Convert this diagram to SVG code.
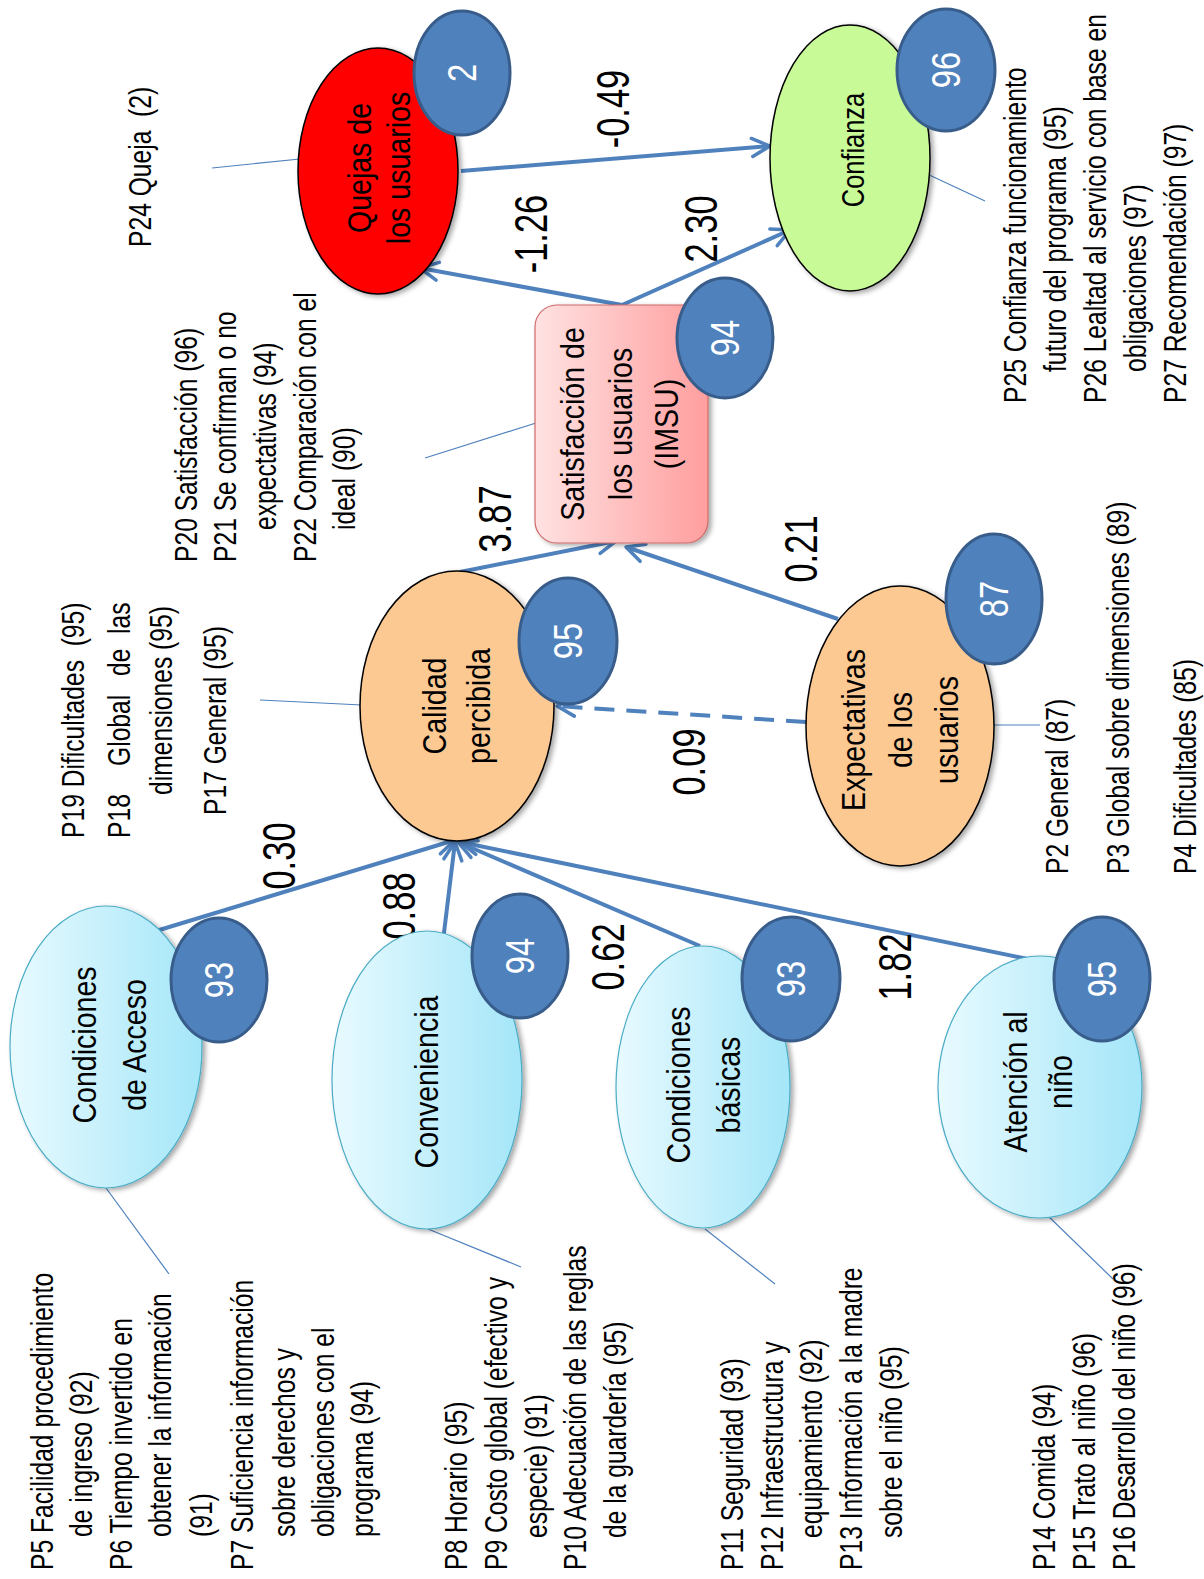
<svg xmlns="http://www.w3.org/2000/svg" width="1204" height="1579" viewBox="0 0 1204 1579">
<defs>
<style>
.t{font-family:"Liberation Sans",Arial,sans-serif;font-size:32px;fill:#000}
.c{font-family:"Liberation Sans",Arial,sans-serif;font-size:34px;fill:#000;text-anchor:middle}
.n{font-family:"Liberation Sans",Arial,sans-serif;font-size:46px;fill:#000;text-anchor:middle}
.b{font-family:"Liberation Sans",Arial,sans-serif;font-size:41px;fill:#fff;text-anchor:middle}
.badge{fill:#4F81BD;stroke:#385D8A;stroke-width:3}
.cy{fill:url(#gCyan);stroke:#4BACC6;stroke-width:1.2}
.or{fill:#FCC993;stroke:#000;stroke-width:1.5}
.arr{fill:none;stroke:#4F81BD;stroke-width:4;marker-end:url(#ah)}
.thin{fill:none;stroke:#4F81BD;stroke-width:1.2}
</style>
<linearGradient id="gCyan" x1="0" y1="0" x2="1" y2="0">
<stop offset="0" stop-color="#E8FAFF"/><stop offset="1" stop-color="#A4E6F8"/>
</linearGradient>
<linearGradient id="gPink" x1="0" y1="0" x2="1" y2="0">
<stop offset="0" stop-color="#FFE2E2"/><stop offset="1" stop-color="#FF9E9E"/>
</linearGradient>
<filter id="sh" x="-20%" y="-20%" width="140%" height="140%">
<feDropShadow dx="3" dy="2" stdDeviation="2.5" flood-color="#000" flood-opacity="0.35"/>
</filter>
<marker id="ah" viewBox="0 0 24 24" refX="21" refY="12" markerWidth="24" markerHeight="24" markerUnits="userSpaceOnUse" orient="auto">
<path d="M3,3 L21,12 L3,21" fill="none" stroke="#4F81BD" stroke-width="3.5" stroke-linecap="round" stroke-linejoin="round"/>
</marker>
</defs>
<rect width="1204" height="1579" fill="#fff"/>

<g id="connectors">
<line class="arr" x1="461" y1="171" x2="770" y2="146"/>
<line class="arr" x1="622" y1="305" x2="420" y2="268"/>
<line class="arr" x1="622" y1="305" x2="790" y2="230"/>
<line class="arr" x1="460" y1="572" x2="616" y2="541"/>
<line class="arr" x1="838" y1="619" x2="626" y2="547"/>
<line class="arr" x1="806" y1="722" x2="557" y2="706" stroke-dasharray="20 12"/>
<line class="arr" x1="156" y1="931" x2="455" y2="840"/>
<line class="arr" x1="443" y1="941" x2="455" y2="842"/>
<line class="arr" x1="700" y1="946" x2="458" y2="842"/>
<line class="arr" x1="1042" y1="962" x2="460" y2="842"/>
<line class="thin" x1="212" y1="168" x2="300" y2="159"/>
<line class="thin" x1="425" y1="458" x2="536" y2="423"/>
<line class="thin" x1="925" y1="173" x2="985" y2="201"/>
<line class="thin" x1="260" y1="700" x2="362" y2="705"/>
<line class="thin" x1="992" y1="725" x2="1040" y2="725"/>
<line class="thin" x1="106" y1="1188" x2="169" y2="1274"/>
<line class="thin" x1="428" y1="1229" x2="521" y2="1267"/>
<line class="thin" x1="705" y1="1229" x2="775" y2="1284"/>
<line class="thin" x1="1045" y1="1213" x2="1113" y2="1279"/>
<text class="n" transform="translate(629 109) rotate(-90) scale(.75 1)">-0.49</text>
<text class="n" transform="translate(547 234) rotate(-90) scale(.75 1)">-1.26</text>
<text class="n" transform="translate(717 229) rotate(-90) scale(.75 1)">2.30</text>
<text class="n" transform="translate(511 519) rotate(-90) scale(.75 1)">3.87</text>
<text class="n" transform="translate(817 549) rotate(-90) scale(.75 1)">0.21</text>
<text class="n" transform="translate(705 762) rotate(-90) scale(.75 1)">0.09</text>
<text class="n" transform="translate(295 856) rotate(-90) scale(.75 1)">0.30</text>
<text class="n" transform="translate(415 906) rotate(-90) scale(.75 1)">0.88</text>
<text class="n" transform="translate(624 957) rotate(-90) scale(.75 1)">0.62</text>
<text class="n" transform="translate(911 967) rotate(-90) scale(.75 1)">1.82</text>
</g>

<g id="quejas">
<ellipse cx="378" cy="171" rx="80" ry="123" fill="#FF0000" stroke="#000" stroke-width="1.5" filter="url(#sh)"/>
<text class="c" transform="translate(371 168) rotate(-90) scale(.84 1)">Quejas de</text>
<text class="c" transform="translate(410 168) rotate(-90) scale(.84 1)">los usuarios</text>
<ellipse class="badge" cx="462" cy="73" rx="48" ry="62"/>
<text class="b" transform="translate(476 73) rotate(-90) scale(.8 1)">2</text>
</g>

<g id="confianza">
<ellipse cx="850" cy="158" rx="80" ry="133" fill="#C9FA98" stroke="#000" stroke-width="1.5" filter="url(#sh)"/>
<text class="c" style="font-size:31px" transform="translate(864 150) rotate(-90) scale(.82 1)">Confianza</text>
<ellipse class="badge" cx="946" cy="70" rx="49" ry="61"/>
<text class="b" transform="translate(960 70) rotate(-90) scale(.8 1)">96</text>
</g>

<g id="satisfaccion">
<rect x="535" y="305" width="173" height="238" rx="22" fill="url(#gPink)" stroke="#D06A6A" stroke-width="1.2" filter="url(#sh)"/>
<text class="c" transform="translate(584 424) rotate(-90) scale(.84 1)">Satisfacción de</text>
<text class="c" transform="translate(632 424) rotate(-90) scale(.84 1)">los usuarios</text>
<text class="c" transform="translate(678 424) rotate(-90) scale(.84 1)">(IMSU)</text>
<ellipse class="badge" cx="725" cy="338" rx="48" ry="60"/>
<text class="b" transform="translate(739 338) rotate(-90) scale(.8 1)">94</text>
</g>

<g id="calidad">
<ellipse class="or" cx="457" cy="706" rx="97" ry="135" filter="url(#sh)"/>
<text class="c" transform="translate(446 706) rotate(-90) scale(.84 1)">Calidad</text>
<text class="c" transform="translate(490 706) rotate(-90) scale(.84 1)">percibida</text>
<ellipse class="badge" cx="568" cy="641" rx="49" ry="63"/>
<text class="b" transform="translate(582 641) rotate(-90) scale(.8 1)">95</text>
</g>

<g id="expectativas">
<ellipse class="or" cx="900" cy="726" rx="94" ry="140" filter="url(#sh)"/>
<text class="c" transform="translate(865 730) rotate(-90) scale(.84 1)">Expectativas</text>
<text class="c" transform="translate(912 730) rotate(-90) scale(.84 1)">de los</text>
<text class="c" transform="translate(958 730) rotate(-90) scale(.84 1)">usuarios</text>
<ellipse class="badge" cx="994" cy="599" rx="48" ry="65"/>
<text class="b" transform="translate(1008 599) rotate(-90) scale(.8 1)">87</text>
</g>

<g id="acceso">
<ellipse class="cy" cx="106" cy="1047" rx="96" ry="141" filter="url(#sh)"/>
<text class="c" transform="translate(96 1045) rotate(-90) scale(.84 1)">Condiciones</text>
<text class="c" transform="translate(146 1045) rotate(-90) scale(.84 1)">de Acceso</text>
<ellipse class="badge" cx="219" cy="980" rx="48" ry="62"/>
<text class="b" transform="translate(233 980) rotate(-90) scale(.8 1)">93</text>
</g>

<g id="conveniencia">
<ellipse class="cy" cx="427" cy="1080" rx="95" ry="149" filter="url(#sh)"/>
<text class="c" transform="translate(438 1082) rotate(-90) scale(.84 1)">Conveniencia</text>
<ellipse class="badge" cx="520" cy="956" rx="48" ry="62"/>
<text class="b" transform="translate(534 956) rotate(-90) scale(.8 1)">94</text>
</g>

<g id="basicas">
<ellipse class="cy" cx="703" cy="1087" rx="87" ry="141" filter="url(#sh)"/>
<text class="c" transform="translate(690 1085) rotate(-90) scale(.84 1)">Condiciones</text>
<text class="c" transform="translate(740 1085) rotate(-90) scale(.84 1)">básicas</text>
<ellipse class="badge" cx="791" cy="979" rx="49" ry="62"/>
<text class="b" transform="translate(805 979) rotate(-90) scale(.8 1)">93</text>
</g>

<g id="atencion">
<ellipse class="cy" cx="1040" cy="1087" rx="102" ry="131" filter="url(#sh)"/>
<text class="c" transform="translate(1027 1082) rotate(-90) scale(.84 1)">Atención al</text>
<text class="c" transform="translate(1072 1082) rotate(-90) scale(.84 1)">niño</text>
<ellipse class="badge" cx="1102" cy="979" rx="48" ry="62"/>
<text class="b" transform="translate(1116 979) rotate(-90) scale(.8 1)">95</text>
</g>

<g id="txt-quejas">
<text class="t" xml:space="preserve" transform="translate(151 247) rotate(-90) scale(.77 1)">P24 Queja  (2)</text>
</g>

<g id="txt-satisfaccion">
<text class="t" transform="translate(197 562) rotate(-90) scale(.77 1)">P20 Satisfacción (96)</text>
<text class="t" transform="translate(236 562) rotate(-90) scale(.77 1)">P21 Se confirman o no</text>
<text class="t" transform="translate(276 530) rotate(-90) scale(.77 1)">expectativas (94)</text>
<text class="t" transform="translate(316 562) rotate(-90) scale(.77 1)">P22 Comparación con el</text>
<text class="t" transform="translate(355 530) rotate(-90) scale(.77 1)">ideal (90)</text>
</g>

<g id="txt-calidad">
<text class="t" xml:space="preserve" transform="translate(84 838) rotate(-90) scale(.77 1)">P19 Dificultades  (95)</text>
<text class="t" transform="translate(130 838) rotate(-90) scale(.77 1)">P18</text>
<text class="t" transform="translate(130 766) rotate(-90) scale(.77 1)">Global</text>
<text class="t" transform="translate(130 676) rotate(-90) scale(.77 1)">de</text>
<text class="t" transform="translate(130 634) rotate(-90) scale(.77 1)">las</text>
<text class="t" transform="translate(172 795) rotate(-90) scale(.77 1)">dimensiones (95)</text>
<text class="t" transform="translate(226 815) rotate(-90) scale(.77 1)">P17 General (95)</text>
</g>

<g id="txt-expectativas">
<text class="t" transform="translate(1068 874) rotate(-90) scale(.77 1)">P2 General (87)</text>
<text class="t" transform="translate(1129 874) rotate(-90) scale(.77 1)">P3 Global sobre dimensiones (89)</text>
<text class="t" transform="translate(1196 874) rotate(-90) scale(.77 1)">P4 Dificultades (85)</text>
</g>

<g id="txt-confianza">
<text class="t" transform="translate(1026 403) rotate(-90) scale(.77 1)">P25 Confianza funcionamiento</text>
<text class="t" transform="translate(1066 372) rotate(-90) scale(.77 1)">futuro del programa (95)</text>
<text class="t" transform="translate(1106 403) rotate(-90) scale(.77 1)">P26 Lealtad al servicio con base en</text>
<text class="t" transform="translate(1146 372) rotate(-90) scale(.77 1)">obligaciones (97)</text>
<text class="t" transform="translate(1186 403) rotate(-90) scale(.77 1)">P27 Recomendación (97)</text>
</g>

<g id="txt-acceso">
<text class="t" transform="translate(53 1570) rotate(-90) scale(.77 1)">P5 Facilidad procedimiento</text>
<text class="t" transform="translate(92 1537) rotate(-90) scale(.77 1)">de ingreso (92)</text>
<text class="t" transform="translate(132 1570) rotate(-90) scale(.77 1)">P6 Tiempo invertido en</text>
<text class="t" transform="translate(171 1537) rotate(-90) scale(.77 1)">obtener la información</text>
<text class="t" transform="translate(212 1537) rotate(-90) scale(.77 1)">(91)</text>
<text class="t" transform="translate(253 1570) rotate(-90) scale(.77 1)">P7 Suficiencia información</text>
<text class="t" transform="translate(295 1537) rotate(-90) scale(.77 1)">sobre derechos y</text>
<text class="t" transform="translate(334 1537) rotate(-90) scale(.77 1)">obligaciones con el</text>
<text class="t" transform="translate(373 1537) rotate(-90) scale(.77 1)">programa (94)</text>
</g>

<g id="txt-conveniencia">
<text class="t" transform="translate(467 1570) rotate(-90) scale(.77 1)">P8 Horario (95)</text>
<text class="t" transform="translate(507 1570) rotate(-90) scale(.77 1)">P9 Costo global (efectivo y</text>
<text class="t" transform="translate(547 1538) rotate(-90) scale(.77 1)">especie) (91)</text>
<text class="t" transform="translate(586 1570) rotate(-90) scale(.77 1)">P10 Adecuación de las reglas</text>
<text class="t" transform="translate(626 1538) rotate(-90) scale(.77 1)">de la guardería (95)</text>
</g>

<g id="txt-basicas">
<text class="t" transform="translate(743 1570) rotate(-90) scale(.77 1)">P11 Seguridad (93)</text>
<text class="t" transform="translate(783 1570) rotate(-90) scale(.77 1)">P12 Infraestructura y</text>
<text class="t" transform="translate(822 1538) rotate(-90) scale(.77 1)">equipamiento (92)</text>
<text class="t" transform="translate(862 1570) rotate(-90) scale(.77 1)">P13 Información a la madre</text>
<text class="t" transform="translate(902 1538) rotate(-90) scale(.77 1)">sobre el niño (95)</text>
</g>

<g id="txt-atencion">
<text class="t" transform="translate(1055 1570) rotate(-90) scale(.77 1)">P14 Comida (94)</text>
<text class="t" transform="translate(1095 1570) rotate(-90) scale(.77 1)">P15 Trato al niño (96)</text>
<text class="t" transform="translate(1135 1570) rotate(-90) scale(.77 1)">P16 Desarrollo del niño (96)</text>
</g>
</svg>
